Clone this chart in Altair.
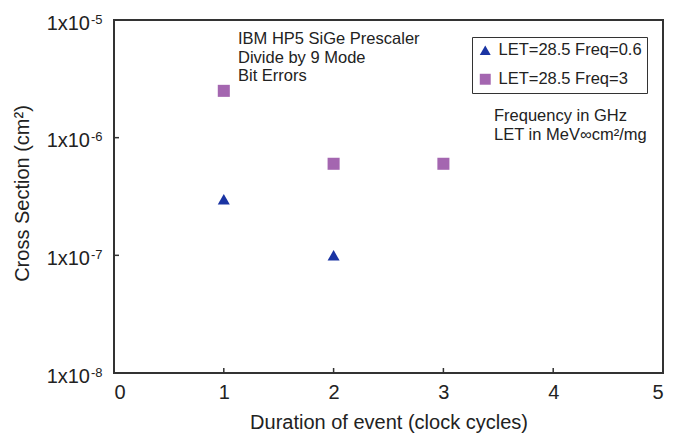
import altair as alt
import pandas as pd

# ---- data ----
series_labels = ["LET=28.5 Freq=0.6", "LET=28.5 Freq=3"]
series_colors = ["#1a34a3", "#a466b0"]
series_shapes = ["triangle-up", "square"]

cycles_freq06 = [1, 2]
xsec_freq06 = [3.0e-7, 1.0e-7]
cycles_freq3 = [1, 2, 3]
xsec_freq3 = [2.5e-6, 6.0e-7, 6.0e-7]

x_ticks = [0, 1, 2, 3, 4, 5]
y_ticks = [1e-8, 1e-7, 1e-6, 1e-5]
y_tick_base = ["1x10", "1x10", "1x10", "1x10"]
y_tick_exp = ["-8", "-7", "-6", "-5"]

note_lines = ["IBM HP5 SiGe Prescaler", "Divide by 9 Mode", "Bit Errors"]
unit_lines = ["Frequency in GHz", "LET in MeV\u221ecm\u00b2/mg"]

FONT = "Liberation Sans"
INK = "#222"
W, H = 549, 353

df = pd.DataFrame({
    "cycles": cycles_freq06 + cycles_freq3,
    "xsec": xsec_freq06 + xsec_freq3,
    "series": [series_labels[0]] * len(cycles_freq06) + [series_labels[1]] * len(cycles_freq3),
})

xscale = alt.Scale(domain=[0, 5], nice=False, zero=False)
yscale = alt.Scale(type="log", domain=[1e-8, 1e-5], nice=False)

xaxis = alt.Axis(values=x_ticks, title="Duration of event (clock cycles)", ticks=False, domain=False,
                 grid=False, labelPadding=9, titlePadding=10, labelFontSize=20, titleFontSize=20,
                 format="d")
yaxis = alt.Axis(values=y_ticks, title="Cross Section (cm\u00b2)", ticks=False, domain=False,
                 grid=False, labels=False, titleFontSize=20, titleX=-86, titleY=173,
                 titleAngle=270, titleAlign="center", titleBaseline="alphabetic")

legend = alt.Legend(title=None, orient="none", legendX=358, legendY=17, strokeColor="#333",
                    padding=5, rowPadding=12, labelFontSize=16.5, symbolSize=120,
                    symbolStrokeWidth=0, labelFont=FONT, labelColor=INK, fillColor="white",
                    symbolOffset=0, labelOffset=5)

points = alt.Chart(df).mark_point(filled=True, opacity=1, size=145).encode(
    x=alt.X("cycles:Q", scale=xscale, axis=xaxis),
    y=alt.Y("xsec:Q", scale=yscale, axis=yaxis),
    color=alt.Color("series:N", scale=alt.Scale(domain=series_labels, range=series_colors), legend=legend),
    shape=alt.Shape("series:N", scale=alt.Scale(domain=series_labels, range=series_shapes), legend=legend),
)

xtick_marks = alt.Chart(pd.DataFrame({"t": x_ticks})).mark_rule(color="#333", strokeWidth=1.5).encode(
    x=alt.X("t:Q", scale=xscale), y=alt.value(H), y2=alt.value(H - 5)
)
ytick_marks = alt.Chart(pd.DataFrame({"v": y_ticks})).mark_rule(color="#333", strokeWidth=1.5).encode(
    y=alt.Y("v:Q", scale=yscale), x=alt.value(0), x2=alt.value(5)
)

ylab_df = pd.DataFrame({"v": y_ticks, "base": y_tick_base, "exp": y_tick_exp})
ylab_base = alt.Chart(ylab_df).mark_text(align="right", baseline="alphabetic", fontSize=20, font=FONT,
                                         color=INK, dy=9.7).encode(
    y=alt.Y("v:Q", scale=yscale), x=alt.value(-24), text="base:N"
)
ylab_exp = alt.Chart(ylab_df).mark_text(align="left", baseline="alphabetic", fontSize=13, font=FONT,
                                        color=INK, dy=3.7).encode(
    y=alt.Y("v:Q", scale=yscale), x=alt.value(-23), text="exp:N"
)

one = pd.DataFrame({"a": [0]})
notes = alt.Chart(one).mark_text(align="left", baseline="middle", fontSize=16.5, font=FONT,
                                 color=INK, lineHeight=18.5).encode(
    x=alt.value(124), y=alt.value(19), text=alt.value(note_lines)
)
units = alt.Chart(one).mark_text(align="left", baseline="middle", fontSize=16.5, font=FONT,
                                 color=INK, lineHeight=19).encode(
    x=alt.value(380), y=alt.value(96), text=alt.value(unit_lines)
)

chart = alt.layer(xtick_marks, ytick_marks, ylab_base, ylab_exp, points, notes, units).properties(
    width=W, height=H, autosize="none",
    padding={"left": 114, "top": 20, "right": 20, "bottom": 68},
    background="white",
).configure_view(stroke="#333", strokeWidth=2).configure_axis(
    labelFont=FONT, titleFont=FONT, labelColor=INK, titleColor=INK, titleFontWeight="normal"
)

chart.save("out.html", embed_options={"renderer": "svg", "actions": False})
